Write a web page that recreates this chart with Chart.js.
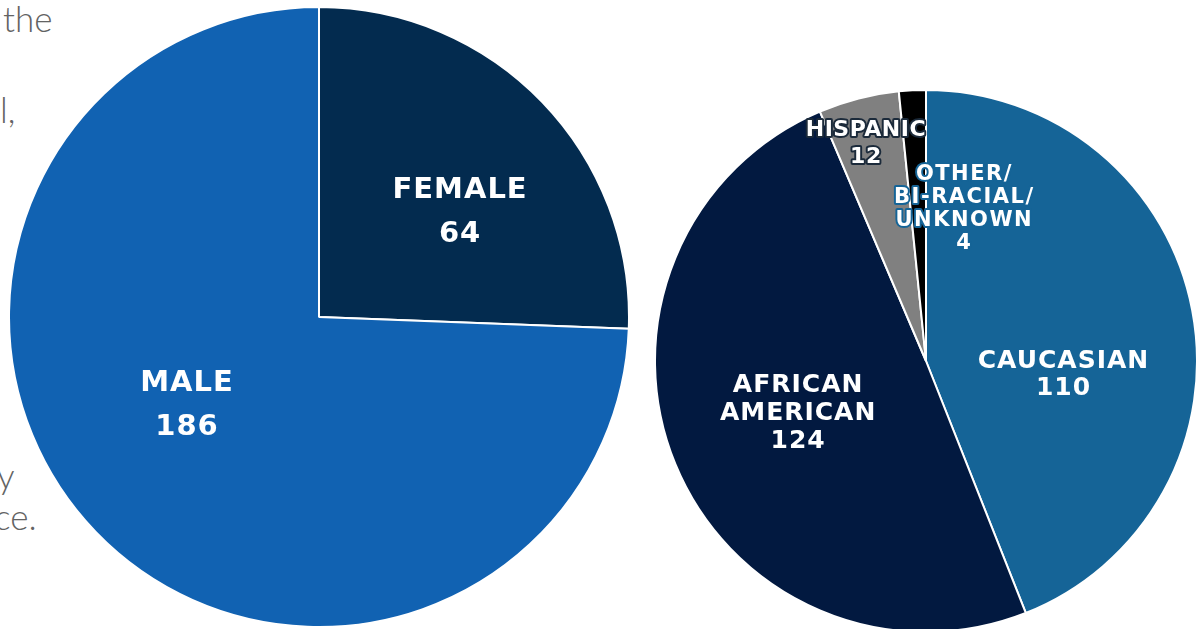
<!DOCTYPE html>
<html>
<head>
<meta charset="utf-8">
<script src="https://cdn.jsdelivr.net/npm/chart.js@4"></script>
<style>
  html, body { margin: 0; padding: 0; background: #fff; width: 1204px; height: 629px; overflow: hidden; }
  .pie { position: absolute; }
  .side { position: absolute; font-family: Lato, sans-serif; font-weight: 300; font-size: 35px; color: #636363; line-height: 1; white-space: nowrap; }
</style>
</head>
<body>
<div class="side" style="left:3px;top:1px">the</div>
<div class="side" style="left:0px;top:92px">l,</div>
<div class="side" style="left:-3px;top:458px">y</div>
<div class="side" style="left:-6px;top:499px">ce.</div>

<canvas id="gender" class="pie" width="622" height="622" style="left:8px;top:6px"></canvas>
<canvas id="race" class="pie" width="544" height="544" style="left:654px;top:89px"></canvas>

<script>
// gender split
var genderLabels = ['FEMALE', 'MALE'];
var genderValues = [64, 186];
var genderColors = ['#032b4f', '#1162b2'];

// race split
var raceLabels = ['CAUCASIAN', 'AFRICAN AMERICAN', 'HISPANIC', 'OTHER/ BI-RACIAL/ UNKNOWN'];
var raceValues = [110, 124, 12, 4];
var raceColors = ['#156497', '#021940', '#808080', '#000000'];

// how each slice label is written and placed (angle shift in degrees, distance as part of radius)
var genderText = [['FEMALE', '64'], ['MALE', '186']];
var genderPlace = [[7.3, 0.567], [10.2, 0.512]];
var raceText = [['CAUCASIAN', '110'], ['AFRICAN', 'AMERICAN', '124'], ['HISPANIC', '12'], ['OTHER/', 'BI-RACIAL/', 'UNKNOWN', '4']];
var racePlace = [[16.6, 0.51], [0, 0.51], [-1.1, 0.83], [17, 0.58]];

var sliceLabels = {
  id: 'sliceLabels',
  afterDatasetsDraw: function(chart, args, opts) {
    var ctx = chart.ctx;
    var arcs = chart.getDatasetMeta(0).data;
    arcs.forEach(function(arc, i) {
      var p = arc.getProps(['x', 'y', 'startAngle', 'endAngle', 'outerRadius'], true);
      var mid = (p.startAngle + p.endAngle) / 2 + opts.place[i][0] * Math.PI / 180;
      var r = p.outerRadius * opts.place[i][1];
      var cx = p.x + Math.cos(mid) * r;
      var cy = p.y + Math.sin(mid) * r;
      var lines = opts.text[i];
      var st = opts.style[i];
      ctx.save();
      ctx.font = 'bold ' + st.size + 'px "DejaVu Sans", sans-serif';
      ctx.letterSpacing = st.spacing + 'px';
      ctx.textAlign = 'center';
      ctx.textBaseline = 'middle';
      ctx.lineJoin = 'round';
      var top = cy - (lines.length - 1) * st.lh / 2;
      lines.forEach(function(t, k) {
        var ty = top + k * st.lh;
        if (st.stroke) {
          ctx.strokeStyle = st.stroke;
          ctx.lineWidth = 4;
          ctx.strokeText(t, cx, ty);
        }
        ctx.fillStyle = '#ffffff';
        ctx.fillText(t, cx, ty);
      });
      ctx.restore();
    });
  }
};

function makePie(id, labels, values, colors, text, place, style) {
  new Chart(document.getElementById(id), {
    type: 'pie',
    data: {
      labels: labels,
      datasets: [{
        data: values,
        backgroundColor: colors,
        borderColor: '#ffffff',
        borderWidth: 2
      }]
    },
    options: {
      responsive: false,
      animation: false,
      events: [],
      layout: { padding: 0 },
      plugins: {
        legend: { display: false },
        tooltip: { enabled: false },
        sliceLabels: { text: text, place: place, style: style }
      }
    },
    plugins: [sliceLabels]
  });
}

makePie('gender', genderLabels, genderValues, genderColors, genderText, genderPlace, [
  { size: 29, lh: 44, spacing: 1 },
  { size: 29, lh: 44, spacing: 1 }
]);
makePie('race', raceLabels, raceValues, raceColors, raceText, racePlace, [
  { size: 25, lh: 27, spacing: 1 },
  { size: 25, lh: 28, spacing: 1 },
  { size: 22, lh: 27, spacing: 0.5, stroke: '#1b2a3a' },
  { size: 21, lh: 23, spacing: 1.5, stroke: '#156497' }
]);
</script>
</body>
</html>
